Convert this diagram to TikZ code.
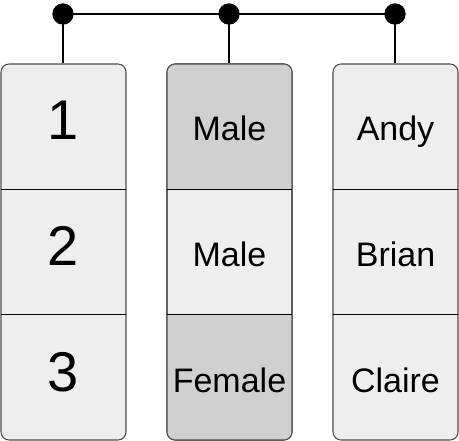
\documentclass[tikz,border=0pt]{standalone}
\usepackage{fontspec}
\setmainfont{Liberation Sans}
\begin{document}
\begin{tikzpicture}[x=0.75pt,y=-0.75pt,
  colbox/.style={draw=black!70,line width=0.8pt,fill=cellbase,rounded corners=6pt,minimum width=93.75pt,minimum height=282pt,inner sep=0pt},
  dot/.style={circle,fill=black,inner sep=0pt,minimum size=16pt},
  wire/.style={line width=1.4pt},
  divider/.style={line width=1.1pt},
  numtxt/.style={anchor=base,inner sep=0pt,font=\fontsize{42}{46}\selectfont},
  wordtxt/.style={anchor=base,inner sep=0pt,font=\fontsize{25.5}{28}\selectfont}]
\definecolor{cellbase}{HTML}{EEEEEE}
\definecolor{cellshade}{HTML}{D0D0D0}
\useasboundingbox (0,0) rectangle (459,441);
% columns
\node[colbox] (c1) at (63.5,252) {};
\node[colbox] (c2) at (229.5,252) {};
\node[colbox] (c3) at (395.5,252) {};
% shaded cells in column 2
\begin{scope}
  \clip[rounded corners=6pt] (167,64) rectangle (292,440);
  \fill[cellshade] (167,64) rectangle (292,189.3);
  \fill[cellshade] (167,314.7) rectangle (292,440);
\end{scope}
\node[colbox,fill=none] at (229.5,252) {};
% dividers
\foreach \x in {1,167,333}{
  \draw[divider] (\x,189.3) -- ++(125,0);
  \draw[divider] (\x,314.7) -- ++(125,0);
}
% texts
\node[numtxt] (n1) at (63.5,140) {1};
\node[numtxt] (n2) at (63.5,265.5) {2};
\node[numtxt] (n3) at (63.5,391) {3};
\node[wordtxt] (g1) at (229.5,141) {Male};
\node[wordtxt] (g2) at (229.5,266.5) {Male};
\node[wordtxt] (g3) at (229.5,392) {Female};
\node[wordtxt] (m1) at (395.5,141) {Andy};
\node[wordtxt] (m2) at (395.5,266.5) {Brian};
\node[wordtxt] (m3) at (395.5,392) {Claire};
% connectors
\node[dot] (d1) at (63,14) {};
\node[dot] (d2) at (229,14) {};
\node[dot] (d3) at (395,14) {};
\draw[wire] (d1.center) -- (d2.center) -- (d3.center);
\draw[wire] (d1.center) -- (c1.north -| d1);
\draw[wire] (d2.center) -- (c2.north -| d2);
\draw[wire] (d3.center) -- (c3.north -| d3);
\end{tikzpicture}
\end{document}
